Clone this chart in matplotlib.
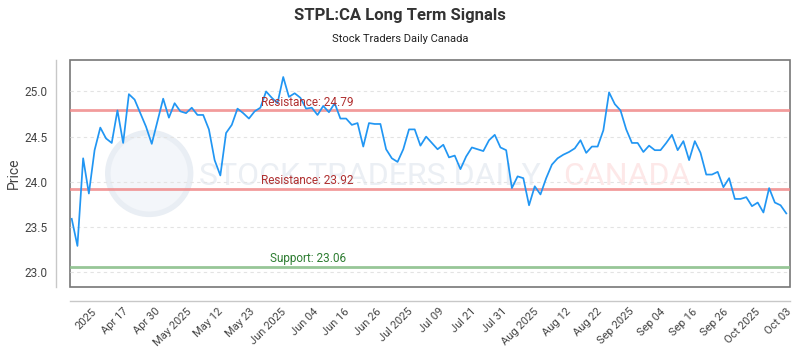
import numpy as np
import matplotlib
matplotlib.use("Agg")
import matplotlib.pyplot as plt
from matplotlib.patches import Ellipse
from matplotlib.transforms import blended_transform_factory

# closing prices, one per trading day
prices = [
    23.59, 23.29, 24.26, 23.87, 24.35, 24.60, 24.48, 24.43, 24.79, 24.43,
    24.97, 24.91, 24.76, 24.61, 24.42, 24.67, 24.92, 24.71, 24.87, 24.78,
    24.76, 24.82, 24.74, 24.74, 24.58, 24.24, 24.07, 24.54, 24.63, 24.81,
    24.76, 24.70, 24.78, 24.82, 25.00, 24.93, 24.87, 25.16, 24.94, 24.98,
    24.93, 24.81, 24.82, 24.74, 24.84, 24.77, 24.87, 24.70, 24.70, 24.63,
    24.65, 24.39, 24.65, 24.64, 24.64, 24.36, 24.26, 24.22, 24.36, 24.58,
    24.58, 24.40, 24.50, 24.43, 24.36, 24.41, 24.27, 24.29, 24.14, 24.28,
    24.38, 24.36, 24.34, 24.46, 24.52, 24.38, 24.35, 23.93, 24.06, 24.04,
    23.74, 23.95, 23.86, 24.04, 24.19, 24.26, 24.30, 24.33, 24.37, 24.46,
    24.32, 24.39, 24.39, 24.57, 24.99, 24.86, 24.79, 24.58, 24.43, 24.43,
    24.33, 24.40, 24.35, 24.35, 24.43, 24.52, 24.35, 24.45, 24.24, 24.45,
    24.32, 24.08, 24.08, 24.11, 23.94, 24.04, 23.81, 23.81, 23.83, 23.73,
    23.77, 23.66, 23.93, 23.77, 23.74, 23.65,
]

tick_labels = [
    "2025", "Apr 17", "Apr 30", "May 2025", "May 12", "May 23", "Jun 2025",
    "Jun 04", "Jun 16", "Jun 26", "Jul 2025", "Jul 09", "Jul 21", "Jul 31",
    "Aug 2025", "Aug 12", "Aug 22", "Sep 2025", "Sep 04", "Sep 16", "Sep 26",
    "Oct 2025", "Oct 03",
]

resistance_levels = [24.79, 23.92]
support_levels = [23.06]
y_ticks = [23.0, 23.5, 24.0, 24.5, 25.0]

plt.rcParams["font.family"] = ["Roboto", "DejaVu Sans"]

fig = plt.figure(figsize=(8, 3.5), dpi=100)
ax = fig.add_axes([0.0875, 0.18, 0.9, 0.649])

# frame around the plot plus offset axis lines (before ticks, it resets them)
ax.patch.set_edgecolor("#777777")
ax.patch.set_linewidth(1.2)
for side in ["top", "right"]:
    ax.spines[side].set_visible(False)
for side in ["left", "bottom"]:
    ax.spines[side].set_position(("outward", 10))
    ax.spines[side].set_color("#c8c8c8")
    ax.spines[side].set_linewidth(1)

x = np.arange(len(prices))

# faint watermark
ax.add_patch(Ellipse((0.11, 0.5), 0.115, 0.36, transform=ax.transAxes,
                     facecolor="#f3f6fa", edgecolor="#e9eef4", lw=4,
                     zorder=0))
ax.text(0.417, 0.485, "STOCK TRADERS DAILY", transform=ax.transAxes,
        fontsize=23, color="#ebeff4", ha="center", va="center", zorder=0)
ax.text(0.774, 0.485, "CANADA", transform=ax.transAxes,
        fontsize=23, color="#fde8e8", ha="center", va="center", zorder=0)

ax.plot(x, prices, color="#2196f3", lw=1.25, zorder=3)

trans = blended_transform_factory(ax.transAxes, ax.transData)
for lvl in resistance_levels:
    ax.axhline(lvl, color="#f08a8a", lw=2, alpha=0.85, zorder=2)
    ax.text(0.33, lvl + 0.02, f"Resistance: {lvl:.2f}", transform=trans,
            ha="center", va="bottom", fontsize=8.5, color="#b03030")
for lvl in support_levels:
    ax.axhline(lvl, color="#8cc08c", lw=2, alpha=0.9, zorder=2)
    ax.text(0.33, lvl + 0.02, f"Support: {lvl:.2f}", transform=trans,
            ha="center", va="bottom", fontsize=8.5, color="#2e7d32")

ax.set_xlim(-0.3, len(prices) - 1 + 0.65)
ax.set_ylim(22.835, 25.35)

ax.set_yticks(y_ticks)
ax.set_yticklabels([f"{v:.1f}" for v in y_ticks])
ax.grid(axis="y", color="#e3e3e3", ls=(0, (3, 3)), lw=0.8)
ax.set_axisbelow(True)

tick_pos = np.linspace(3.5, len(prices) - 1, len(tick_labels))
ax.set_xticks(tick_pos)
ax.set_xticklabels(tick_labels, rotation=45, ha="right",
                   rotation_mode="anchor")

ax.tick_params(axis="both", length=0, labelsize=8.5, colors="#444444")
ax.tick_params(axis="x", pad=4, labelsize=8)
ax.tick_params(axis="y", pad=6)

ax.set_ylabel("Price", fontsize=10, color="#444444")
ax.yaxis.set_label_coords(-0.068, 0.5)

fig.text(0.5, 0.955, "STPL:CA Long Term Signals", ha="center", va="center",
         fontsize=12, fontweight="bold", color="#333333")
fig.text(0.5, 0.888, "Stock Traders Daily Canada", ha="center", va="center",
         fontsize=8, color="#222222")

fig.savefig("out.png", dpi=100, facecolor="white")
